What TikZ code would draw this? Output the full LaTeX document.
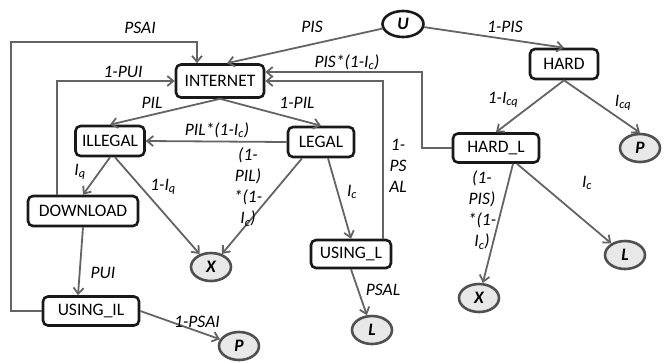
\documentclass[tikz,border=0pt]{standalone}
\usepackage{fontspec}
\setmainfont{Carlito}
\usepackage{tikz}
\usetikzlibrary{arrows.meta}
\usetikzlibrary{shapes.geometric}

\definecolor{edgegray}{RGB}{100,100,100}
\definecolor{ringgray}{RGB}{80,80,80}
\definecolor{sinkfill}{RGB}{232,232,232}

\begin{document}
\begin{tikzpicture}[x=1pt,y=-1pt,
    font=\fontsize{17.5}{21}\selectfont,
    box/.style={draw=black!90,line width=2.6pt,rounded corners=5pt,fill=white,
      minimum height=30pt,inner sep=0pt},
    start/.style={ellipse,draw=black!90,line width=2.6pt,fill=white,
      minimum width=41pt,minimum height=26pt,inner sep=0pt,
      font=\fontsize{17.5}{21}\selectfont\bfseries\itshape},
    sink/.style={ellipse,draw=ringgray,line width=2.6pt,fill=sinkfill,
      minimum width=40pt,minimum height=28pt,inner sep=0pt,
      font=\fontsize{17.5}{21}\selectfont\bfseries\itshape},
    flow/.style={draw=edgegray,line width=1.8pt,
      -{Straight Barb[length=6pt,width=10pt]}},
    lab/.style={font=\fontsize{17.5}{21}\selectfont\itshape,
      inner sep=0pt,align=center}]
  \useasboundingbox (0,0) rectangle (664,362);

  % states
  \node[start] (U) at (403,24) {U};
  \node[box,minimum width=88pt,minimum height=33pt] (internet) at (220,81) {INTERNET};
  \node[box,minimum width=68pt] (hard) at (564,64) {HARD};
  \node[box,minimum width=69pt] (illegal) at (110,141) {ILLEGAL};
  \node[box,minimum width=66pt] (legal) at (321,142) {LEGAL};
  \node[box,minimum width=86pt,minimum height=29pt] (hardL) at (496,148) {HARD\_L};
  \node[box,minimum width=110pt] (download) at (83,211) {DOWNLOAD};
  \node[box,minimum width=80pt,minimum height=28pt] (usingL) at (351,254) {USING\_L};
  \node[box,minimum width=96pt,minimum height=29pt] (usingIL) at (91,311) {USING\_IL};

  % end states
  \node[sink] (P1) at (640,148) {P};
  \node[sink] (X1) at (211,267) {X};
  \node[sink] (L1) at (625,255) {L};
  \node[sink] (X2) at (479,298) {X};
  \node[sink] (L2) at (372,330) {L};
  \node[sink] (P2) at (239,346) {P};

  \coordinate (corner) at (11,42);

  % transitions
  \draw[flow] (U) -- ([xshift=7pt]internet.north);
  \draw[flow] (U) -- (hard.north);
  \draw[flow] (hard.south) -- (hardL.north);
  \draw[flow] (hard.south) -- (P1.north);
  \draw[flow] (internet.south) -- (illegal.north);
  \draw[flow] (internet.south) -- (legal.north);
  \draw[flow] (legal.west) -- (illegal.east);
  \draw[flow] ([xshift=-19pt]legal.south) -- (X1);
  \draw[flow] ([xshift=5pt]illegal.south) -- (X1);
  \draw[flow] (illegal.south) -- (download.north);
  \draw[flow] ([xshift=-26pt]download.north) |- (internet.west);
  \draw[flow] (download.south) -- ([xshift=-13pt]usingIL.north);
  \draw[flow] (usingIL.west) -| (corner) -| ([xshift=-23pt]internet.north);
  \draw[flow] (usingIL.east) -- (P2);
  \draw[flow] ([xshift=7pt]legal.south) -- (usingL.north);
  \draw[flow] (usingL.south) -- (L2);
  \draw[flow] ([xshift=32pt]usingL.north) |- (internet.east);
  \draw[flow] (hardL.west) -- ++(-30,0) |- ([yshift=9pt]internet.east);
  \draw[flow] ([xshift=17pt]hardL.south) -- (X2);
  \draw[flow] ([xshift=21pt]hardL.south) -- (L1);

  % probabilities
  \node[lab] (tPIS) at (312,27) {PIS};
  \node[lab] (t1PIS) at (505,27) {1-PIS};
  \node[lab] (tPSAI) at (140,28) {PSAI};
  \node[lab] (t1PUI) at (123,72) {1-PUI};
  \node[lab] (tPISIc) at (347,62) {PIS*(1-I\textsubscript{c})};
  \node[lab] (tPIL) at (152,103) {PIL};
  \node[lab] (t1PIL) at (297,103) {1-PIL};
  \node[lab] (tPILIc) at (217,130) {PIL*(1-I\textsubscript{c})};
  \node[lab] (t1Icq) at (503,100) {1-I\textsubscript{cq}};
  \node[lab] (tIcq) at (623,103) {I\textsubscript{cq}};
  \node[lab] (tIq) at (80,172) {I\textsubscript{q}};
  \node[lab] (t1Iq) at (163,187) {1-I\textsubscript{q}};
  \node[lab] (tLegalX) at (248,187) {(1-\\PIL)\\{}*(1-\\I\textsubscript{c})};
  \node[lab] (t1PSAL) at (398,166) {1-\\PS\\AL};
  \node[lab] (tIcL) at (352,192) {I\textsubscript{c}};
  \node[lab] (tHardX) at (482,210) {(1-\\PIS)\\{}*(1-\\I\textsubscript{c})};
  \node[lab] (tIcH) at (587,183) {I\textsubscript{c}};
  \node[lab] (tPUI) at (103,273) {PUI};
  \node[lab] (t1PSAI) at (197,322) {1-PSAI};
  \node[lab] (tPSAL) at (383,290) {PSAL};
\end{tikzpicture}
\end{document}
